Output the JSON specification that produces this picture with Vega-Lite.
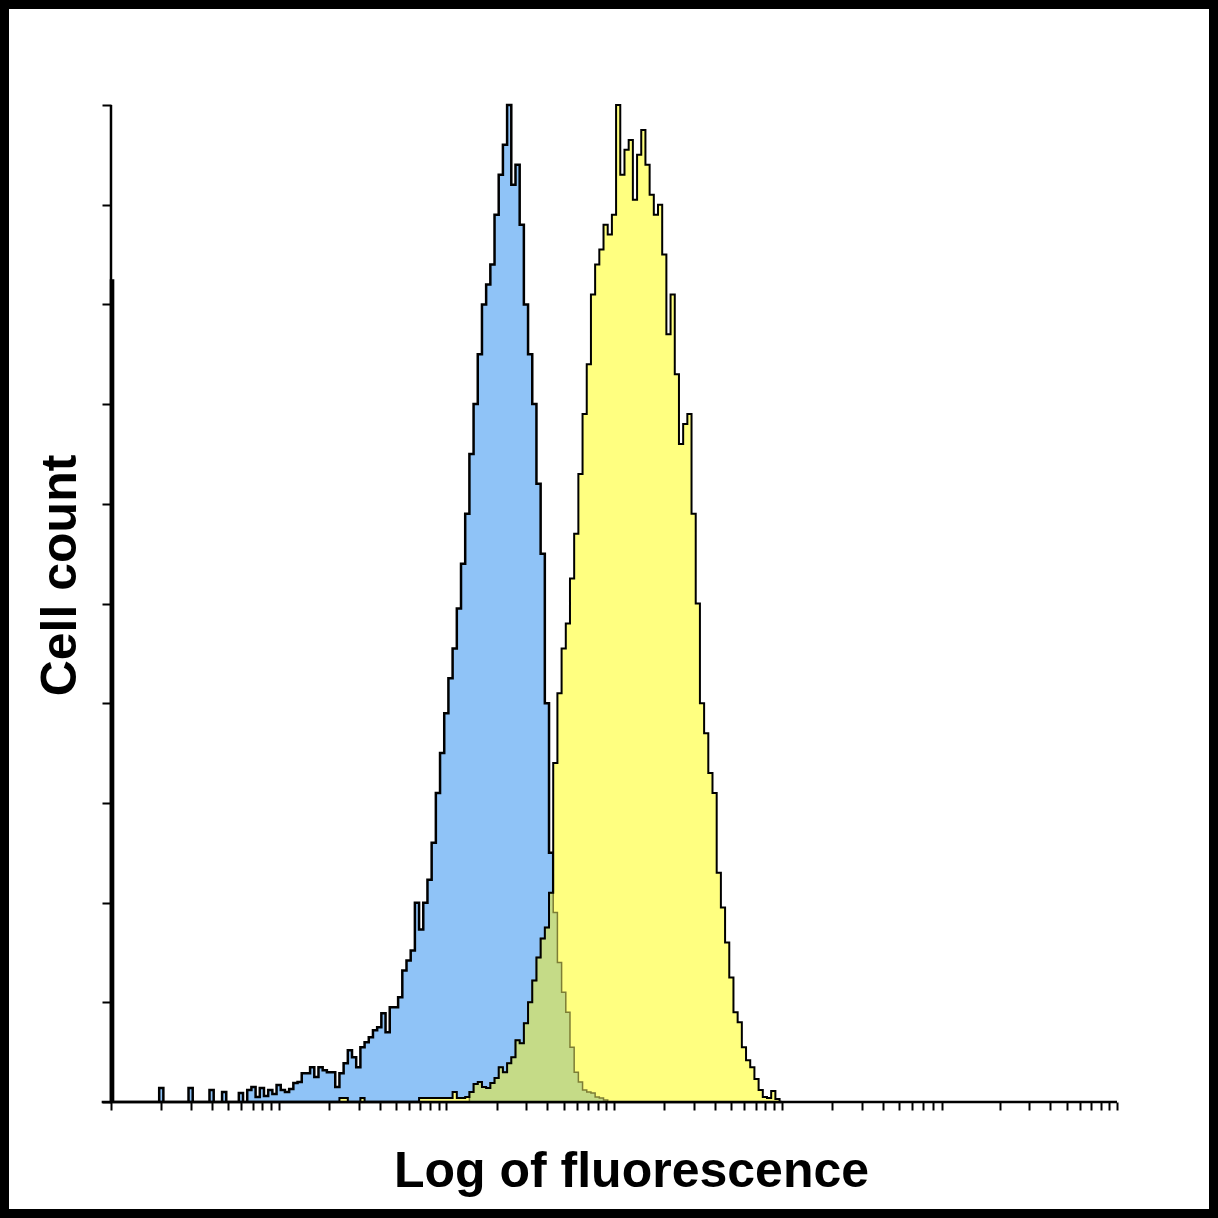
{
  "$schema": "https://vega.github.io/schema/vega-lite/v6.json",
  "width": 1218,
  "height": 1218,
  "autosize": {"type": "none"},
  "padding": 0,
  "background": "white",
  "config": {"view": {"stroke": "black", "strokeWidth": 18, "fill": "white"}},
  "datasets": {
    "hist": [
      {"x":1,"b":82.4,"yl":0,"g":0},{"x":1.059,"b":0,"yl":0,"g":0},{"x":1.122,"b":0,"yl":0,"g":0},{"x":1.189,"b":0,"yl":0,"g":0},
      {"x":1.259,"b":0,"yl":0,"g":0},{"x":1.334,"b":0,"yl":0,"g":0},{"x":1.413,"b":0,"yl":0,"g":0},{"x":1.496,"b":0,"yl":0,"g":0},
      {"x":1.585,"b":0,"yl":0,"g":0},{"x":1.679,"b":0,"yl":0,"g":0},{"x":1.778,"b":0,"yl":0,"g":0},{"x":1.884,"b":0,"yl":0,"g":0},
      {"x":1.995,"b":1.4,"yl":0,"g":0},{"x":2.113,"b":0,"yl":0,"g":0},{"x":2.239,"b":0,"yl":0,"g":0},{"x":2.371,"b":0,"yl":0,"g":0},
      {"x":2.512,"b":0,"yl":0,"g":0},{"x":2.661,"b":0,"yl":0,"g":0},{"x":2.818,"b":0,"yl":0,"g":0},{"x":2.985,"b":1.4,"yl":0,"g":0},
      {"x":3.162,"b":0,"yl":0,"g":0},{"x":3.35,"b":0,"yl":0,"g":0},{"x":3.548,"b":0,"yl":0,"g":0},{"x":3.758,"b":0,"yl":0,"g":0},
      {"x":3.981,"b":1.2,"yl":0,"g":0},{"x":4.217,"b":0,"yl":0,"g":0},{"x":4.467,"b":0,"yl":0,"g":0},{"x":4.732,"b":1.0,"yl":0,"g":0},
      {"x":5.012,"b":0,"yl":0,"g":0},{"x":5.309,"b":0,"yl":0,"g":0},{"x":5.623,"b":0,"yl":0,"g":0},{"x":5.957,"b":0.9,"yl":0,"g":0},
      {"x":6.31,"b":0,"yl":0,"g":0},{"x":6.683,"b":1.2,"yl":0,"g":0},{"x":7.079,"b":1.5,"yl":0,"g":0},{"x":7.499,"b":0.5,"yl":0,"g":0},
      {"x":7.943,"b":1.4,"yl":0,"g":0},{"x":8.414,"b":0.6,"yl":0,"g":0},{"x":8.913,"b":1.2,"yl":0,"g":0},{"x":9.441,"b":0.8,"yl":0,"g":0},
      {"x":10,"b":1.7,"yl":0,"g":0},{"x":10.59,"b":1.2,"yl":0,"g":0},{"x":11.22,"b":1.0,"yl":0,"g":0},{"x":11.89,"b":1.3,"yl":0,"g":0},
      {"x":12.59,"b":1.9,"yl":0,"g":0},{"x":13.34,"b":2.0,"yl":0,"g":0},{"x":14.13,"b":2.9,"yl":0,"g":0},{"x":14.96,"b":2.9,"yl":0,"g":0},
      {"x":15.85,"b":3.5,"yl":0,"g":0},{"x":16.79,"b":2.5,"yl":0,"g":0},{"x":17.78,"b":3.5,"yl":0,"g":0},{"x":18.84,"b":3.2,"yl":0,"g":0},
      {"x":19.95,"b":3.0,"yl":0,"g":0},{"x":21.13,"b":3.0,"yl":0,"g":0},{"x":22.39,"b":1.5,"yl":0,"g":0},{"x":23.71,"b":2.9,"yl":0.4,"g":0},
      {"x":25.12,"b":3.9,"yl":0.4,"g":0},{"x":26.61,"b":5.2,"yl":0,"g":0},{"x":28.18,"b":4.5,"yl":0,"g":0},{"x":29.85,"b":3.5,"yl":0,"g":0},
      {"x":31.62,"b":5.5,"yl":0.4,"g":0},{"x":33.5,"b":6.0,"yl":0,"g":0},{"x":35.48,"b":6.5,"yl":0,"g":0},{"x":37.58,"b":7.2,"yl":0,"g":0},
      {"x":39.81,"b":7.5,"yl":0,"g":0},{"x":42.17,"b":8.9,"yl":0,"g":0},{"x":44.67,"b":7.0,"yl":0,"g":0},{"x":47.32,"b":9.5,"yl":0,"g":0},
      {"x":50.12,"b":9.5,"yl":0,"g":0},{"x":53.09,"b":10.5,"yl":0,"g":0},{"x":56.23,"b":13.2,"yl":0,"g":0},{"x":59.57,"b":14.2,"yl":0,"g":0},
      {"x":63.1,"b":15.2,"yl":0,"g":0},{"x":66.83,"b":20.0,"yl":0,"g":0},{"x":70.79,"b":17.3,"yl":0.4,"g":0},{"x":74.99,"b":20.0,"yl":0.4,"g":0},
      {"x":79.43,"b":22.3,"yl":0.4,"g":0},{"x":84.14,"b":26,"yl":0.4,"g":0},{"x":89.13,"b":31,"yl":0.4,"g":0},{"x":94.41,"b":35,"yl":0.4,"g":0},
      {"x":100,"b":39,"yl":0.4,"g":0},{"x":105.9,"b":42.5,"yl":0.4,"g":0},{"x":112.2,"b":45.5,"yl":1.0,"g":0},{"x":118.9,"b":49.5,"yl":0.4,"g":0},
      {"x":125.9,"b":54,"yl":0.4,"g":0},{"x":133.4,"b":59,"yl":0.5,"g":0},{"x":141.3,"b":65,"yl":1.0,"g":1.0},{"x":149.6,"b":70,"yl":1.8,"g":1.8},
      {"x":158.5,"b":75,"yl":2.0,"g":2.0},{"x":167.9,"b":80,"yl":1.5,"g":1.5},{"x":177.8,"b":82,"yl":1.4,"g":1.4},{"x":188.4,"b":84,"yl":1.9,"g":1.9},
      {"x":199.5,"b":89,"yl":2.4,"g":2.4},{"x":211.3,"b":93,"yl":3.5,"g":3.5},{"x":223.9,"b":96,"yl":3.0,"g":3.0},{"x":237.1,"b":100,"yl":3.9,"g":3.9},
      {"x":251.2,"b":92,"yl":4.5,"g":4.5},{"x":266.1,"b":94,"yl":6.2,"g":6.2},{"x":281.8,"b":88,"yl":5.9,"g":5.9},{"x":298.5,"b":80,"yl":7.9,"g":7.9},
      {"x":316.2,"b":75,"yl":10,"g":10},{"x":335,"b":70,"yl":12.2,"g":12.2},{"x":354.8,"b":62,"yl":14.5,"g":14.5},{"x":375.8,"b":55,"yl":16.4,"g":16.4},
      {"x":398.1,"b":40,"yl":17.5,"g":17.5},{"x":421.7,"b":25,"yl":21,"g":21},{"x":446.7,"b":19,"yl":34,"g":19},{"x":473.2,"b":14,"yl":41,"g":14},
      {"x":501.2,"b":11,"yl":45.5,"g":11},{"x":530.9,"b":9,"yl":48,"g":9},{"x":562.3,"b":5.5,"yl":52.5,"g":5.5},{"x":595.7,"b":3.0,"yl":57,"g":3.0},
      {"x":631,"b":2.0,"yl":63,"g":2.0},{"x":668.3,"b":1.2,"yl":69,"g":1.2},{"x":707.9,"b":1.0,"yl":74,"g":1.0},{"x":749.9,"b":0.9,"yl":81,"g":0.9},
      {"x":794.3,"b":0.5,"yl":84,"g":0.5},{"x":841.4,"b":0.4,"yl":85.5,"g":0.4},{"x":891.3,"b":0.2,"yl":88,"g":0.2},{"x":944.1,"b":0,"yl":87,"g":0},
      {"x":1000,"b":0,"yl":89,"g":0},{"x":1059,"b":0,"yl":100,"g":0},{"x":1122,"b":0,"yl":93,"g":0},{"x":1189,"b":0,"yl":95.5,"g":0},
      {"x":1259,"b":0,"yl":96.5,"g":0},{"x":1334,"b":0,"yl":90.5,"g":0},{"x":1413,"b":0,"yl":95,"g":0},{"x":1496,"b":0,"yl":97.5,"g":0},
      {"x":1585,"b":0,"yl":94,"g":0},{"x":1679,"b":0,"yl":91,"g":0},{"x":1778,"b":0,"yl":89,"g":0},{"x":1884,"b":0,"yl":90,"g":0},
      {"x":1995,"b":0,"yl":85,"g":0},{"x":2113,"b":0,"yl":77,"g":0},{"x":2239,"b":0,"yl":81,"g":0},{"x":2371,"b":0,"yl":73,"g":0},
      {"x":2512,"b":0,"yl":66,"g":0},{"x":2661,"b":0,"yl":68,"g":0},{"x":2818,"b":0,"yl":69,"g":0},{"x":2985,"b":0,"yl":59,"g":0},
      {"x":3162,"b":0,"yl":50,"g":0},{"x":3350,"b":0,"yl":40,"g":0},{"x":3548,"b":0,"yl":37,"g":0},{"x":3758,"b":0,"yl":33,"g":0},
      {"x":3981,"b":0,"yl":31,"g":0},{"x":4217,"b":0,"yl":23,"g":0},{"x":4467,"b":0,"yl":19.5,"g":0},{"x":4732,"b":0,"yl":16,"g":0},
      {"x":5012,"b":0,"yl":12.5,"g":0},{"x":5309,"b":0,"yl":9,"g":0},{"x":5623,"b":0,"yl":8,"g":0},{"x":5957,"b":0,"yl":5.5,"g":0},
      {"x":6310,"b":0,"yl":4.2,"g":0},{"x":6683,"b":0,"yl":3.5,"g":0},{"x":7079,"b":0,"yl":2.3,"g":0},{"x":7499,"b":0,"yl":1.2,"g":0},
      {"x":7943,"b":0,"yl":0.5,"g":0},{"x":8414,"b":0,"yl":0.4,"g":0},{"x":8913,"b":0,"yl":1.1,"g":0},{"x":9441,"b":0,"yl":0.3,"g":0},
      {"x":10000,"b":0,"yl":0,"g":0}
    ],
    "axes": [
      {"axis": "x", "from": 0.88, "to": 1000000, "at": 0},
      {"axis": "y", "from": 0, "to": 100, "at": 1}
    ]
  },
  "data": {"name": "hist"},
  "layer": [
    {
      "mark": {"type": "area", "interpolate": "step", "fill": "#8fc3f7", "stroke": "black", "strokeWidth": 2.5},
      "encoding": {
        "x": {
          "field": "x",
          "type": "quantitative",
          "scale": {"type": "log", "domain": [0.2178, 4003000], "nice": false},
          "axis": {
            "orient": "bottom",
            "offset": -116,
            "values": [1,2,3,4,5,6,7,8,9,10,20,30,40,50,60,70,80,90,100,200,300,400,500,600,700,800,900,1000,2000,3000,4000,5000,6000,7000,8000,9000,10000,20000,30000,40000,50000,60000,70000,80000,90000,200000,300000,400000,500000,600000,700000,800000,900000,1000000],
            "labels": false,
            "grid": false,
            "domain": false,
            "tickSize": 8,
            "tickWidth": 2,
            "tickColor": "black",
            "title": "Log of fluorescence",
            "titleFont": "Liberation Sans",
            "titleFontSize": 50,
            "titleFontWeight": "bold",
            "titleColor": "black",
            "titlePadding": 35,
            "titleX": 631
          }
        },
        "y": {
          "field": "b",
          "type": "quantitative",
          "scale": {"domain": [-11.63, 110.53], "nice": false, "zero": false},
          "axis": {
            "orient": "left",
            "offset": -111,
            "values": [0,10,20,30,40,50,60,70,80,90,100],
            "labels": false,
            "grid": false,
            "domain": false,
            "tickSize": 9,
            "tickWidth": 2,
            "tickColor": "black",
            "title": "Cell count",
            "titleFont": "Liberation Sans",
            "titleFontSize": 50,
            "titleFontWeight": "bold",
            "titleColor": "black",
            "titlePadding": 16,
            "titleY": 575
          }
        },
        "y2": {"datum": 0}
      }
    },
    {
      "mark": {"type": "area", "interpolate": "step", "fill": "#ffff80"},
      "encoding": {
        "x": {"field": "x", "type": "quantitative"},
        "y": {"field": "yl", "type": "quantitative"},
        "y2": {"datum": 0}
      }
    },
    {
      "mark": {"type": "area", "interpolate": "step", "fill": "#c5db87", "stroke": "#7d7d35", "strokeWidth": 1.5},
      "encoding": {
        "x": {"field": "x", "type": "quantitative"},
        "y": {"field": "g", "type": "quantitative"},
        "y2": {"datum": 0}
      }
    },
    {
      "mark": {"type": "line", "interpolate": "step", "stroke": "black", "strokeWidth": 2},
      "encoding": {
        "x": {"field": "x", "type": "quantitative"},
        "y": {"field": "yl", "type": "quantitative"}
      }
    },
    {
      "data": {"name": "axes"},
      "transform": [{"filter": "datum.axis === 'x'"}],
      "mark": {"type": "rule", "stroke": "black", "strokeWidth": 2.5},
      "encoding": {
        "x": {"field": "from", "type": "quantitative"},
        "x2": {"field": "to"},
        "y": {"field": "at", "type": "quantitative"}
      }
    },
    {
      "data": {"name": "axes"},
      "transform": [{"filter": "datum.axis === 'y'"}],
      "mark": {"type": "rule", "stroke": "black", "strokeWidth": 2.5},
      "encoding": {
        "x": {"field": "at", "type": "quantitative"},
        "y": {"field": "from", "type": "quantitative"},
        "y2": {"field": "to"}
      }
    }
  ]
}
